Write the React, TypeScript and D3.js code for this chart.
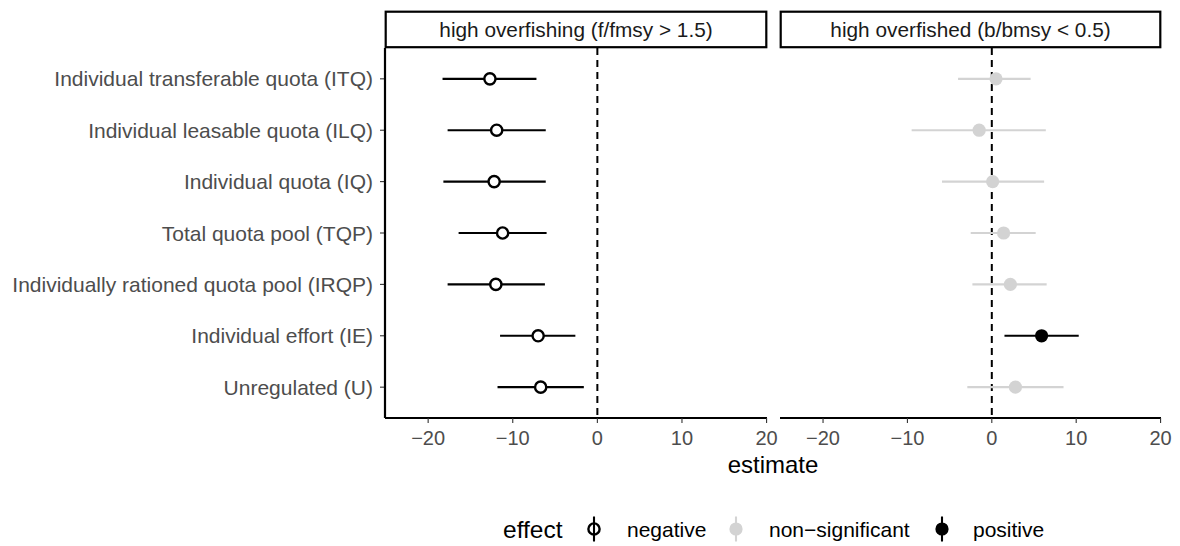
import React from "react";
import * as d3 from "d3";

const categories = [
  "Individual transferable quota (ITQ)",
  "Individual leasable quota (ILQ)",
  "Individual quota (IQ)",
  "Total quota pool (TQP)",
  "Individually rationed quota pool (IRQP)",
  "Individual effort (IE)",
  "Unregulated (U)",
];
const panels = ["high overfishing (f/fmsy > 1.5)", "high overfished (b/bmsy < 0.5)"];

const fishEst = [-12.7, -11.9, -12.2, -11.2, -12.0, -7.0, -6.7];
const fishLo = [-18.3, -17.7, -18.2, -16.4, -17.7, -11.5, -11.8];
const fishHi = [-7.2, -6.1, -6.1, -6.0, -6.2, -2.6, -1.6];
const fishEffect = ["negative", "negative", "negative", "negative", "negative", "negative", "negative"];

const bioEst = [0.5, -1.5, 0.1, 1.4, 2.2, 5.9, 2.8];
const bioLo = [-4.0, -9.5, -5.9, -2.5, -2.3, 1.5, -2.9];
const bioHi = [4.6, 6.4, 6.2, 5.2, 6.5, 10.3, 8.5];
const bioEffect = ["non-significant", "non-significant", "non-significant", "non-significant", "non-significant", "positive", "non-significant"];

const xTicks = [-20, -10, 0, 10, 20];
const effects = ["negative", "non-significant", "positive"];
const effectLabels = ["negative", "non\u2212significant", "positive"];

const FONT = "'Liberation Sans', Arial, Helvetica, sans-serif";
const colorOf: Record<string, string> = { negative: "#000000", "non-significant": "#D3D3D3", positive: "#000000" };

const panelData = [
  { est: fishEst, lo: fishLo, hi: fishHi, eff: fishEffect },
  { est: bioEst, lo: bioLo, hi: bioHi, eff: bioEffect },
];

function Glyph({ cx, cy, effect, hollow }: { cx: number; cy: number; effect: string; hollow?: boolean }) {
  const c = colorOf[effect];
  if (effect === "negative") {
    return <circle cx={cx} cy={cy} r={5.6} fill={hollow ? "none" : "white"} stroke={c} strokeWidth={2.4} />;
  }
  return <circle cx={cx} cy={cy} r={6.6} fill={c} stroke="none" />;
}

export default function App() {
  const W = 1180, H = 546;
  const top = 48, bottom = 418;
  const panelX = [
    [385, 767],
    [780, 1161],
  ];
  const y = d3.scalePoint<string>().domain(categories).range([top, bottom]).padding(0.6);
  const xs = panelX.map(([a, b]) => d3.scaleLinear().domain([-25.1, 20.05]).range([a, b]));
  const legY = 529;

  return (
    <svg width={W} height={H} style={{ position: "absolute", left: 0, top: 0, background: "white" }} fontFamily={FONT}>
      <rect x={0} y={0} width={W} height={H} fill="white" />
      {categories.map((c) => (
        <g key={c}>
          <text x={373} y={y(c)!} dy="0.36em" textAnchor="end" fontSize={21} fill="#4D4D4D">
            {c}
          </text>
          <line x1={380} x2={385} y1={y(c)!} y2={y(c)!} stroke="#333" strokeWidth={1.1} />
        </g>
      ))}
      <line x1={385} x2={385} y1={top} y2={bottom} stroke="black" strokeWidth={2.2} />
      {panels.map((p, i) => {
        const x = xs[i];
        const [a, b] = panelX[i];
        const d = panelData[i];
        return (
          <g key={p}>
            <rect x={a + 0.7} y={11.7} width={b - a - 1.4} height={35.5} fill="white" stroke="black" strokeWidth={2.2} />
            <text x={(a + b) / 2} y={29.5} dy="0.36em" textAnchor="middle" fontSize={20.8} fill="#1A1A1A">
              {p}
            </text>
            <line x1={x(0)} x2={x(0)} y1={top} y2={bottom} stroke="black" strokeWidth={2} strokeDasharray="7,5" />
            <line x1={a} x2={b} y1={bottom} y2={bottom} stroke="black" strokeWidth={2.2} />
            {xTicks.map((t) => (
              <g key={t}>
                <line x1={x(t)} x2={x(t)} y1={bottom} y2={bottom + 5} stroke="#333" strokeWidth={1.1} />
                <text x={x(t)} y={445} textAnchor="middle" fontSize={20} fill="#4D4D4D">
                  {t < 0 ? "\u2212" + Math.abs(t) : String(t)}
                </text>
              </g>
            ))}
            {categories.map((c, j) => {
              const cy = y(c)!;
              const col = colorOf[d.eff[j]];
              return (
                <g key={c}>
                  <line x1={x(d.lo[j])} x2={x(d.hi[j])} y1={cy} y2={cy} stroke={col} strokeWidth={2.1} />
                  <Glyph cx={x(d.est[j])} cy={cy} effect={d.eff[j]} />
                </g>
              );
            })}
          </g>
        );
      })}
      <text x={773} y={473} textAnchor="middle" fontSize={24} fill="black">
        estimate
      </text>
      <text x={503} y={legY} dy="0.36em" fontSize={24.5} fill="black">
        effect
      </text>
      {effects.map((e, i) => {
        const kx = [594, 736, 942][i];
        const tx = [627, 769, 973][i];
        const col = colorOf[e];
        return (
          <g key={e}>
            <line x1={kx} x2={kx} y1={legY - 12.5} y2={legY + 12.5} stroke={col} strokeWidth={2.1} />
            <Glyph cx={kx} cy={legY} effect={e} hollow />
            <text x={tx} y={legY} dy="0.36em" fontSize={21} fill="black">
              {effectLabels[i]}
            </text>
          </g>
        );
      })}
    </svg>
  );
}
